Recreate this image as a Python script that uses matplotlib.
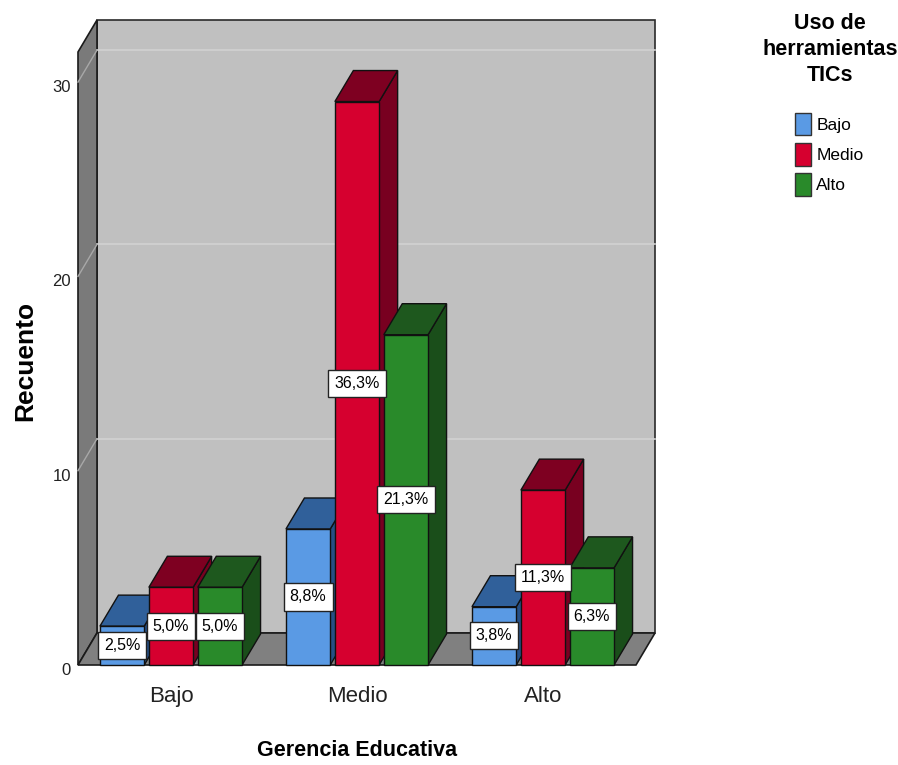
import numpy as np
import matplotlib.pyplot as plt
from matplotlib.patches import Polygon, Rectangle, Patch
from matplotlib.transforms import ScaledTranslation

# Recuento por Gerencia Educativa y uso de herramientas TICs
categories = ['Bajo', 'Medio', 'Alto']
series = ['Bajo', 'Medio', 'Alto']
counts_bajo = [2, 7, 3]
counts_medio = [4, 29, 9]
counts_alto = [4, 17, 5]
yticks = [0, 10, 20, 30]

counts = [counts_bajo, counts_medio, counts_alto]
total = sum(sum(c) for c in counts)

# front, top, side colours for each series
front_cols = ['#5A9AE4', '#D6002F', '#298A2A']
top_cols = ['#30609A', '#7E0021', '#1E581E']
side_cols = ['#264F84', '#780020', '#1A4E1A']

plt.rcParams['font.family'] = ['Liberation Sans', 'DejaVu Sans']

W, H = 898, 765
fig = plt.figure(figsize=(W / 100, H / 100), dpi=100)
ax = fig.add_axes([78 / W, 100 / H, 558 / W, 613 / H])

YTOP = 31.55
ax.set_xlim(-0.5, 2.5)
ax.set_ylim(0, YTOP)
# depth of the 3d box in data units
DX = 3.0 * 19 / 558
DY = YTOP * 32 / 613
BDX = 3.0 * 18.5 / 558
BDY = YTOP * 31 / 613

# walls and floor
ax.add_patch(Rectangle((-0.5 + DX, DY), 3.0, YTOP, fc='#C0C0C0', ec='#2a2a2a',
                       lw=1.2, clip_on=False, zorder=1))
ax.add_patch(Polygon([(-0.5, 0), (-0.5 + DX, DY), (-0.5 + DX, YTOP + DY), (-0.5, YTOP)],
                     closed=True, fc='#7A7A7A', ec='#1a1a1a', lw=1.2, clip_on=False, zorder=1))
for v in yticks[1:]:
    ax.plot([-0.5 + DX, 2.5 + DX], [v + DY, v + DY], color='#D2D2D2', lw=1.2,
            clip_on=False, zorder=1.5)
    ax.plot([-0.5, -0.5 + DX], [v, v + DY], color='#A8A8A8', lw=1.0,
            clip_on=False, zorder=1.5)
ax.add_patch(Polygon([(-0.5, 0), (2.5, 0), (2.5 + DX, DY), (-0.5 + DX, DY)],
                     closed=True, fc='#808080', ec='#1a1a1a', lw=1.2, clip_on=False, zorder=2))

step = 0.263
width = 0.238


def pct_label(n):
    p = np.floor(n * 1000 / total + 0.5) / 10
    return f'{p:.1f}'.replace('.', ',') + '%'


z = 3
for g in range(len(categories)):
    for s in range(len(series)):
        h = counts[s][g]
        x0 = g + (s - 1) * step - width / 2
        x1 = x0 + width
        ax.add_patch(Polygon([(x1, 0), (x1 + BDX, BDY), (x1 + BDX, h + BDY), (x1, h)],
                             closed=True, fc=side_cols[s], ec='#111111', lw=1.0,
                             clip_on=False, zorder=z))
        ax.add_patch(Polygon([(x0, h), (x1, h), (x1 + BDX, h + BDY), (x0 + BDX, h + BDY)],
                             closed=True, fc=top_cols[s], ec='#111111', lw=1.0,
                             clip_on=False, zorder=z))
        ax.add_patch(Rectangle((x0, 0), width, h, fc=front_cols[s], ec='#111111', lw=1.0,
                               clip_on=False, zorder=z))
        z += 0.1

for g in range(len(categories)):
    for s in range(len(series)):
        h = counts[s][g]
        ax.text(g + (s - 1) * step, h / 2, pct_label(h), ha='center', va='center',
                fontsize=11.5, zorder=10,
                bbox=dict(boxstyle='square,pad=0.38', fc='white', ec='#222222', lw=1.0))

ax.set_xticks(range(len(categories)))
ax.set_xticklabels(categories, fontsize=16, color='#222222')
ax.set_yticks(yticks)
ax.set_yticklabels([str(v) for v in yticks], fontsize=12, color='#222222')
ax.tick_params(axis='x', length=0, pad=15)
ax.tick_params(axis='y', length=0, pad=5)
for lab in ax.get_yticklabels():
    lab.set_transform(lab.get_transform() + ScaledTranslation(0, -4 / 100, fig.dpi_scale_trans))
for sp in ax.spines.values():
    sp.set_visible(False)
ax.patch.set_visible(False)

ax.set_xlabel('Gerencia Educativa', weight='bold', fontsize=15.5)
ax.xaxis.set_label_coords((357 - 78) / 558, (665 - 740) / 613)
ax.set_ylabel('Recuento', weight='bold', fontsize=19, va='center')
ax.yaxis.set_label_coords((25 - 78) / 558, (665 - 361) / 613)

# legend title and entries
fig.text(830 / W, 1 - 13 / H, 'Uso de\nherramientas\nTICs', ha='center', va='top',
         weight='bold', fontsize=15.5, linespacing=1.3, multialignment='center')
handles = [Patch(facecolor=c, edgecolor='#333333', lw=1.0) for c in front_cols]
fig.legend(handles, series, loc='upper center', bbox_to_anchor=(829 / W, 1 - 101 / H),
           frameon=False, fontsize=12.5, handlelength=0.95, handleheight=1.6,
           handletextpad=0.3, labelspacing=0.45, borderpad=0.2)

fig.savefig('out.png', dpi=100)
